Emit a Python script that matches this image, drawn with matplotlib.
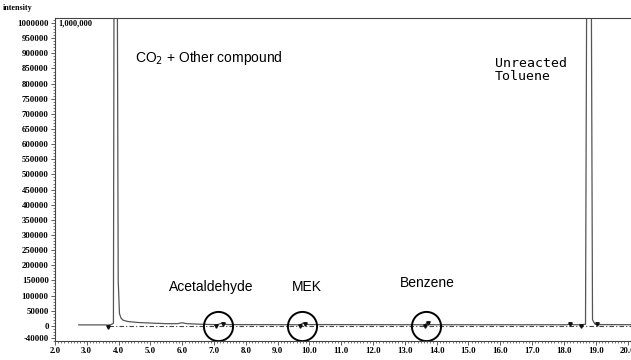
import numpy as np
import matplotlib.pyplot as plt
from matplotlib.ticker import MultipleLocator, FormatStrFormatter

# chromatogram trace (retention time in min, intensity)
times = [2.75, 3.60, 3.66, 3.76, 3.84, 3.86, 3.96, 3.99, 4.03, 4.08, 4.15, 4.30,
         4.60, 5.00, 5.50, 5.85, 6.00, 6.15, 6.60, 7.00, 7.05, 7.15, 7.25, 7.32,
         7.45, 9.60, 9.70, 9.80, 9.88, 10.00, 13.50, 13.62, 13.70, 13.78, 13.90,
         18.10, 18.20, 18.30, 18.55, 18.68, 18.72, 18.86, 18.90, 18.98, 19.05, 20.2]
intensity = [3000, 3000, 2000, 4000, 8000, 1.2e6, 1.2e6, 150000, 40000, 25000,
             18000, 14000, 11000, 9000, 7000, 7000, 10000, 7000, 5000, 4000,
             2000, 5000, 9000, 5000, 4000, 3500, 3000, 9000, 5000, 4000, 3500,
             3000, 9000, 4000, 3500, 3500, 6000, 3500, 3500, 5000, 1.2e6, 1.2e6,
             20000, 5000, 4000, 3500]

# integration marks
mark_t = [3.66, 7.05, 7.30, 9.72, 9.85, 13.62, 13.72, 18.20, 18.55, 19.05]
mark_y = [-3000, -2000, 6000, -2000, 6000, 0, 8000, 6000, -2000, 6000]

# circled compounds
circle_t = [7.13, 9.78, 13.68]
circle_y = [0, 0, 0]

labels = ["Acetaldehyde", "MEK", "Benzene"]
label_t = [5.60, 9.45, 12.85]
label_y = [129000, 129000, 142000]

fig = plt.figure(figsize=(6.31, 3.60), dpi=100)
ax = fig.add_axes([0.087, 0.053, 0.913, 0.898])

ax.plot(times, intensity, color='#555555', lw=0.9)
ax.plot([3.7, 20.2], [0, 0], color='#444444', lw=0.8, ls=(0, (4, 2, 1, 2)))
ax.plot(mark_t, mark_y, ls='none', marker='v', ms=2.5, color='#111111')
ax.plot(circle_t, circle_y, ls='none', marker='o', ms=21, mfc='none',
        mec='black', mew=1.4)

ax.set_xlim(2.0, 20.11)
ax.set_ylim(-50000, 1018000)

ax.xaxis.set_major_locator(MultipleLocator(1.0))
ax.xaxis.set_minor_locator(MultipleLocator(0.1))
ax.xaxis.set_major_formatter(FormatStrFormatter('%.1f'))
ax.set_yticks([-40000] + list(range(0, 1000001, 50000)))
ax.yaxis.set_minor_locator(MultipleLocator(10000))
ax.yaxis.set_major_formatter(FormatStrFormatter('%d'))

for lab in ax.get_xticklabels() + ax.get_yticklabels():
    lab.set_fontfamily('Liberation Serif')
    lab.set_fontweight('bold')
    lab.set_fontsize(6.3)
ax.tick_params(which='major', length=3, width=0.6, pad=1.5, color='#444444')
ax.tick_params(which='minor', length=1.5, width=0.5, color='#444444')
ax.spines['right'].set_visible(False)
for s in ['left', 'bottom', 'top']:
    ax.spines[s].set_linewidth(0.8)
    ax.spines[s].set_color('#444444')

fig.text(0.004, 0.99, 'intensity', fontfamily='Liberation Serif',
         fontweight='bold', fontsize=5.8, va='top')
ax.text(2.1, 1000000, '1,000,000', fontfamily='Liberation Serif',
        fontweight='bold', fontsize=6, va='center')
ax.text(4.52, 884000, 'CO$_2$ + Other compound', fontfamily='Liberation Sans',
        fontsize=10, va='center')
ax.text(15.84, 845000, 'Unreacted\nToluene', fontfamily='DejaVu Sans Mono',
        fontsize=9.5, va='center', linespacing=0.95)
for name, t, y in zip(labels, label_t, label_y):
    ax.text(t, y, name, fontfamily='Liberation Sans', fontsize=10, va='center')

fig.savefig('out.png', dpi=100)
